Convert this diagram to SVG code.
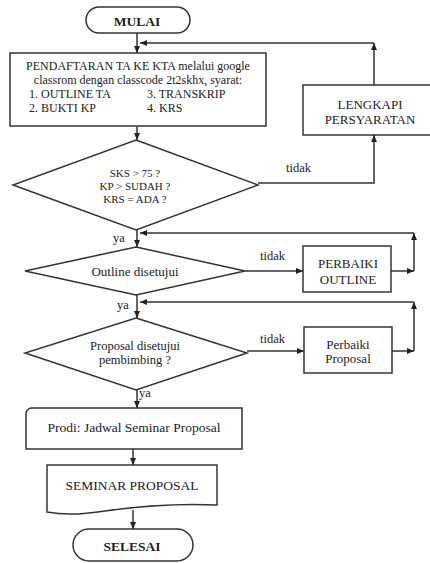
<svg xmlns="http://www.w3.org/2000/svg" width="430" height="563" viewBox="0 0 430 563">
<defs>
<marker id="ah" markerWidth="7" markerHeight="6" refX="7" refY="3" orient="auto" markerUnits="userSpaceOnUse">
<path d="M0,0 L7,3 L0,6 Z" fill="#222"/>
</marker>
<style>
.s{fill:#fff;stroke:#333;stroke-width:1.5}
.c{fill:none;stroke:#333;stroke-width:1.5}
.a{fill:none;stroke:#333;stroke-width:1.5;marker-end:url(#ah)}
text{font-family:"Liberation Serif","Times New Roman",serif;fill:#222}
.m{text-anchor:middle}
.b{font-weight:bold}
.l{font-size:12.5px}
</style>
</defs>
<rect width="430" height="563" fill="#fff"/>

<g id="connectors">
<line class="a" x1="137" y1="33" x2="137" y2="53"/>
<line class="a" x1="137" y1="126" x2="137" y2="140"/>
<line class="a" x1="137" y1="230" x2="137" y2="247"/>
<line class="a" x1="137" y1="295" x2="137" y2="318"/>
<line class="a" x1="137" y1="390" x2="137" y2="408"/>
<line class="a" x1="133" y1="449" x2="133" y2="465"/>
<line class="a" x1="133" y1="510" x2="133" y2="529"/>
<polyline class="a" points="258,183 374,183 374,135"/>
<line class="a" x1="374" y1="85" x2="374" y2="43"/>
<line class="a" x1="374" y1="43" x2="140" y2="43"/>
<line class="a" x1="245" y1="271" x2="303" y2="271"/>
<line class="a" x1="391" y1="271" x2="414" y2="271"/>
<line class="a" x1="414" y1="271" x2="414" y2="233"/>
<line class="a" x1="414" y1="233" x2="140" y2="233"/>
<line class="a" x1="247" y1="351" x2="304" y2="351"/>
<line class="a" x1="392" y1="351" x2="414" y2="351"/>
<line class="a" x1="414" y1="351" x2="414" y2="302"/>
<line class="a" x1="414" y1="302" x2="140" y2="302"/>
<text class="l" x="286" y="172">tidak</text>
<text class="l" x="260" y="260">tidak</text>
<text class="l" x="260" y="343">tidak</text>
<text class="l" x="113" y="242">ya</text>
<text class="l" x="117" y="309">ya</text>
<text class="l" x="139" y="397">ya</text>
</g>

<g id="mulai">
<rect class="s" x="86" y="7" width="104" height="26" rx="13"/>
<text class="m b" x="137" y="26" font-size="13.5">MULAI</text>
</g>

<g id="pendaftaran">
<rect class="s" x="10" y="53" width="256" height="73"/>
<text class="m" x="138" y="70" font-size="12">PENDAFTARAN TA KE KTA melalui google</text>
<text class="m" x="138" y="84" font-size="12">classrom dengan classcode 2t2skhx, syarat:</text>
<text x="29" y="98" font-size="12">1. OUTLINE TA</text>
<text x="147" y="98" font-size="12">3. TRANSKRIP</text>
<text x="29" y="112" font-size="12">2. BUKTI KP</text>
<text x="147" y="112" font-size="12">4. KRS</text>
</g>

<g id="lengkapi">
<rect class="s" x="303" y="85" width="134" height="50"/>
<text class="m" x="370" y="109" font-size="13">LENGKAPI</text>
<text class="m" x="370" y="124" font-size="13">PERSYARATAN</text>
</g>

<g id="syarat">
<polygon class="s" points="136,140 258,185 136,230 13,185"/>
<text class="m" x="135" y="177" font-size="11">SKS &gt; 75 ?</text>
<text class="m" x="135" y="190" font-size="11">KP &gt; SUDAH ?</text>
<text class="m" x="135" y="203" font-size="11">KRS = ADA ?</text>
</g>

<g id="outline">
<polygon class="s" points="136,247 245,271 136,295 25,271"/>
<text class="m" x="135" y="276" font-size="13">Outline disetujui</text>
</g>

<g id="perbaiki-outline">
<rect class="s" x="303" y="246" width="88" height="46"/>
<text class="m" x="348" y="268" font-size="13">PERBAIKI</text>
<text class="m" x="348" y="284" font-size="13">OUTLINE</text>
</g>

<g id="proposal">
<polygon class="s" points="136,318 247,353 136,390 25,353"/>
<text class="m" x="135" y="350" font-size="12.5">Proposal disetujui</text>
<text class="m" x="135" y="364" font-size="12.5">pembimbing ?</text>
</g>

<g id="perbaiki-proposal">
<rect class="s" x="304" y="327" width="88" height="46"/>
<text class="m" x="348" y="349" font-size="13">Perbaiki</text>
<text class="m" x="348" y="363" font-size="13">Proposal</text>
</g>

<g id="prodi">
<path class="s" d="M31,408 H242 V449 H26 V413 Q27,409 31,408 Z"/>
<text class="m" x="134" y="432" font-size="13.5">Prodi: Jadwal Seminar Proposal</text>
</g>

<g id="seminar">
<path class="s" d="M47,465 H217 V505 C175,503 140,506 105,511 C80,515 62,515 47,512 Z"/>
<text class="m" x="132" y="490" font-size="13.5">SEMINAR PROPOSAL</text>
</g>

<g id="selesai">
<rect class="s" x="73" y="529" width="120" height="32" rx="16"/>
<text class="m b" x="132" y="551" font-size="13.5">SELESAI</text>
</g>
</svg>
